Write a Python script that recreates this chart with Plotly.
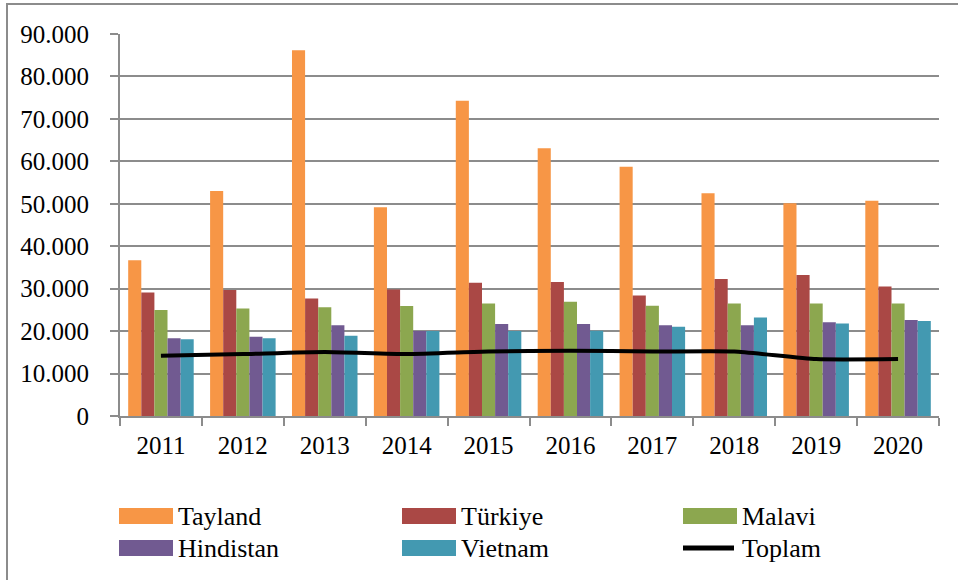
import plotly.graph_objects as go

years = ["2011", "2012", "2013", "2014", "2015", "2016", "2017", "2018", "2019", "2020"]
tayland = [36700, 53000, 86200, 49200, 74300, 63100, 58700, 52500, 50100, 50700]
turkiye = [29100, 29700, 27700, 29800, 31400, 31600, 28400, 32300, 33200, 30500]
malavi = [25000, 25300, 25600, 25900, 26500, 26900, 26000, 26500, 26500, 26500]
hindistan = [18300, 18700, 21400, 20000, 21700, 21700, 21400, 21400, 22100, 22600]
vietnam = [18100, 18300, 18900, 20000, 20000, 20100, 21000, 23200, 21800, 22400]
toplam = [14200, 14600, 15100, 14600, 15200, 15400, 15200, 15200, 13400, 13400]

series_names = ["Tayland", "Türkiye", "Malavi", "Hindistan", "Vietnam"]
series_values = [tayland, turkiye, malavi, hindistan, vietnam]
series_colors = ["#F79646", "#AA4845", "#8CA74F", "#715A91", "#4399B1"]
line_name = "Toplam"

FONT = "Liberation Serif, Times New Roman, serif"
GRID = "#8C8C8C"
W, H = 958, 580
L, R, T, B = 120, 19, 34, 164
PW, PH = W - L - R, H - T - B


def px(xp):
    return (xp - L) / PW


def py(yp):
    return (H - B - yp) / PH


fig = go.Figure()
for name, vals, col in zip(series_names, series_values, series_colors):
    fig.add_trace(go.Bar(x=years, y=vals, name=name, showlegend=False,
                         marker=dict(color=col, line=dict(width=0))))
fig.add_trace(go.Scatter(x=years, y=toplam, name=line_name, mode="lines", showlegend=False,
                         line=dict(color="black", width=4, shape="spline", smoothing=0.5)))

# Custom legend (3 columns x 2 rows), Excel style
shapes = [dict(type="rect", xref="paper", yref="paper", x0=px(7), x1=px(1000), y0=py(640), y1=py(4),
               line=dict(color=GRID, width=2), fillcolor="rgba(0,0,0,0)", layer="below")]
annotations = []
legend_items = [(n, c) for n, c in zip(series_names, series_colors)] + [(line_name, "black")]
col_x = [119, 402, 683]
row_y = [516, 548]
for i, (name, col) in enumerate(legend_items):
    cx = col_x[i % 3]
    cy = row_y[i // 3]
    if name == line_name:
        shapes.append(dict(type="line", xref="paper", yref="paper", x0=px(cx), x1=px(cx + 51),
                           y0=py(cy), y1=py(cy), line=dict(color="black", width=5)))
    else:
        shapes.append(dict(type="rect", xref="paper", yref="paper", x0=px(cx), x1=px(cx + 54),
                           y0=py(cy + 8), y1=py(cy - 8), line=dict(width=0), fillcolor=col))
    annotations.append(dict(text=name, xref="paper", yref="paper", x=px(cx + 57), y=py(cy),
                            xanchor="left", yanchor="middle", showarrow=False,
                            font=dict(family=FONT, size=26, color="black")))

fig.update_layout(
    width=W, height=H,
    margin=dict(l=L, r=R, t=T, b=B),
    paper_bgcolor="white", plot_bgcolor="white",
    separators=",.",
    barmode="group", bargap=0.2, bargroupgap=0,
    font=dict(family=FONT, size=25, color="black"),
    showlegend=False,
    shapes=shapes,
    annotations=annotations,
)
fig.update_xaxes(showline=True, linecolor=GRID, linewidth=2, ticks="outside", ticklen=8,
                 tickcolor=GRID, tickwidth=2, tickson="boundaries", showgrid=False,
                 ticklabelstandoff=6, tickfont=dict(family=FONT, size=25, color="black"))
fig.update_yaxes(range=[0, 90000], dtick=10000, tickformat=",d", showline=True, linecolor=GRID,
                 linewidth=2, ticks="outside", ticklen=8, tickcolor=GRID, tickwidth=2,
                 showgrid=True, gridcolor=GRID, gridwidth=2, zeroline=False,
                 ticklabelstandoff=16, tickfont=dict(family=FONT, size=25, color="black"))

fig.write_html("out.html", config={"displayModeBar": False},
               post_script="document.body.style.margin='0';")
